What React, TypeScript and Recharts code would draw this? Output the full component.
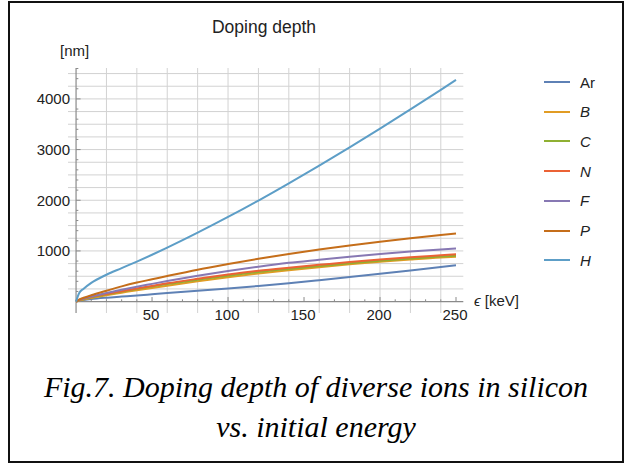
import React from "react";
import { CartesianGrid, Line, LineChart, ReferenceLine, XAxis, YAxis } from "recharts";

// energy [keV] and depth [nm] per ion
const ENERGY = [0, 2, 5, 10, 20, 30, 40, 50, 60, 80, 100, 120, 140, 160, 180, 200, 220, 240, 250];
const AR = [0, 15, 30, 50, 78, 100, 122, 145, 168, 213, 258, 308, 363, 423, 485, 549, 615, 682, 716];
const B = [0, 20, 42, 72, 125, 175, 225, 270, 315, 400, 480, 555, 620, 680, 735, 785, 830, 870, 885];
const C = [0, 26, 52, 85, 143, 198, 250, 298, 345, 430, 512, 585, 645, 700, 755, 805, 850, 890, 905];
const N = [0, 28, 55, 90, 150, 205, 260, 310, 360, 450, 535, 610, 670, 725, 780, 830, 875, 915, 935];
const F = [0, 33, 62, 100, 170, 235, 295, 350, 405, 510, 605, 690, 765, 825, 884, 938, 987, 1030, 1050];
const P = [0, 40, 75, 125, 215, 300, 375, 440, 505, 630, 740, 845, 940, 1028, 1108, 1183, 1252, 1315, 1345];
const H = [0, 165, 255, 370, 530, 660, 790, 925, 1065, 1360, 1670, 1995, 2335, 2685, 3045, 3415, 3795, 4180, 4375];

const SERIES = [
  { key: "Ar", values: AR, color: "#5E81B5", italic: false },
  { key: "B", values: B, color: "#E19C24", italic: true },
  { key: "C", values: C, color: "#8FB032", italic: true },
  { key: "N", values: N, color: "#EB6235", italic: true },
  { key: "F", values: F, color: "#8778B3", italic: true },
  { key: "P", values: P, color: "#C56E1A", italic: true },
  { key: "H", values: H, color: "#5D9EC7", italic: true },
];

const X_TICKS = [50, 100, 150, 200, 250];
const Y_TICKS = [1000, 2000, 3000, 4000];
const X_GRID = [20, 40, 60, 80, 100, 120, 140, 160, 180, 200, 220, 240];
const Y_GRID = [250, 500, 750, 1000, 1250, 1500, 1750, 2000, 2250, 2500, 2750, 3000, 3250, 3500, 3750, 4000, 4250, 4500];
const X_MINOR = [10, 20, 30, 40, 50, 60, 70, 80, 90, 100, 110, 120, 130, 140, 150, 160, 170, 180, 190, 200, 210, 220, 230, 240, 250];
const Y_MINOR = [200, 400, 600, 800, 1000, 1200, 1400, 1600, 1800, 2000, 2200, 2400, 2600, 2800, 3000, 3200, 3400, 3600, 3800, 4000, 4200, 4400, 4600];

const X_DOMAIN = [-5.3, 254.8];
const Y_DOMAIN = [-225, 4610];

const rows = ENERGY.map((e, i) => {
  const row: Record<string, number> = { e };
  SERIES.forEach((s) => (row[s.key] = s.values[i]));
  return row;
});

const FONT = '"Liberation Sans", Arial, sans-serif';
const AXIS_COLOR = "#8a8a8a";
const TEXT_COLOR = "#222";

const YTick = ({ x, y, payload }: any) => (
  <text x={x + 2} y={y} dy="0.35em" textAnchor="end" fontSize={15} fill={TEXT_COLOR} fontFamily={FONT}>
    {payload.value}
  </text>
);

const XTick = ({ x, y, payload }: any) => (
  <text x={x - 1} y={y + 1.5} dy="0.35em" textAnchor="middle" fontSize={15} fill={TEXT_COLOR} fontFamily={FONT}>
    {payload.value}
  </text>
);

export default function App() {
  return (
    <div style={{ position: "absolute", left: 0, top: 0, width: 625, height: 464, background: "#fff" }}>
      <LineChart
        width={625}
        height={464}
        data={rows}
        margin={{ top: 68, right: 161.7, bottom: 121, left: 8 }}
      >
        <CartesianGrid horizontalValues={Y_GRID} verticalValues={X_GRID} stroke="#d2d2d2" strokeWidth={1} />
        <XAxis
          type="number"
          dataKey="e"
          domain={X_DOMAIN}
          allowDataOverflow
          ticks={X_TICKS}
          interval={0}
          axisLine={false}
          tickLine={false}
          tickSize={0}
          tickMargin={0}
          height={30}
          tick={<XTick />}
        />
        <YAxis
          type="number"
          domain={Y_DOMAIN}
          allowDataOverflow
          ticks={Y_TICKS}
          interval={0}
          axisLine={false}
          tickLine={false}
          tickSize={0}
          tickMargin={0}
          width={60}
          tick={<YTick />}
        />
        <ReferenceLine x={0} stroke={AXIS_COLOR} strokeWidth={1.2} />
        <ReferenceLine segment={[{ x: 0, y: 0 }, { x: X_DOMAIN[1], y: 0 }]} stroke={AXIS_COLOR} strokeWidth={1.2} />
        {X_MINOR.map((v) => (
          <ReferenceLine
            key={`xt${v}`}
            segment={[{ x: v, y: 0 }, { x: v, y: v % 50 === 0 ? 90 : 45 }]}
            stroke={AXIS_COLOR}
          />
        ))}
        {Y_MINOR.map((v) => (
          <ReferenceLine
            key={`yt${v}`}
            segment={[{ x: 0, y: v }, { x: v % 1000 === 0 ? 3 : 1.5, y: v }]}
            stroke={AXIS_COLOR}
          />
        ))}
        {SERIES.map((s) => (
          <Line
            key={s.key}
            type="monotone"
            dataKey={s.key}
            stroke={s.color}
            strokeWidth={2}
            dot={false}
            isAnimationActive={false}
          />
        ))}
      </LineChart>

      <div style={{ position: "absolute", left: 0, width: 528, top: 17, textAlign: "center", fontFamily: FONT, fontSize: 17.5, color: TEXT_COLOR }}>
        Doping depth
      </div>
      <div style={{ position: "absolute", left: 60, top: 42, fontFamily: FONT, fontSize: 15, color: TEXT_COLOR }}>[nm]</div>
      <div style={{ position: "absolute", left: 474, top: 292, fontFamily: FONT, fontSize: 15, color: TEXT_COLOR }}>
        <i>ϵ</i> [keV]
      </div>

      {SERIES.map((s, i) => (
        <div key={s.key} style={{ position: "absolute", left: 544, top: 72 + i * 29.7, height: 20, display: "flex", alignItems: "center" }}>
          <div style={{ width: 26, height: 2, background: s.color }} />
          <span style={{ marginLeft: 10, fontFamily: FONT, fontSize: 15, color: TEXT_COLOR, fontStyle: s.italic ? "italic" : "normal" }}>
            {s.key}
          </span>
        </div>
      ))}

      <div
        style={{
          position: "absolute",
          left: 8,
          width: 616,
          top: 367,
          textAlign: "center",
          fontFamily: '"Liberation Serif", "Times New Roman", serif',
          fontStyle: "italic",
          fontSize: 30,
          lineHeight: "40px",
          color: "#000",
        }}
      >
        Fig.7. Doping depth of diverse ions in silicon
        <br />
        vs. initial energy
      </div>

      <div style={{ position: "absolute", left: 8, top: 1, width: 616, height: 462, border: "2px solid #111", boxSizing: "border-box" }} />
    </div>
  );
}
